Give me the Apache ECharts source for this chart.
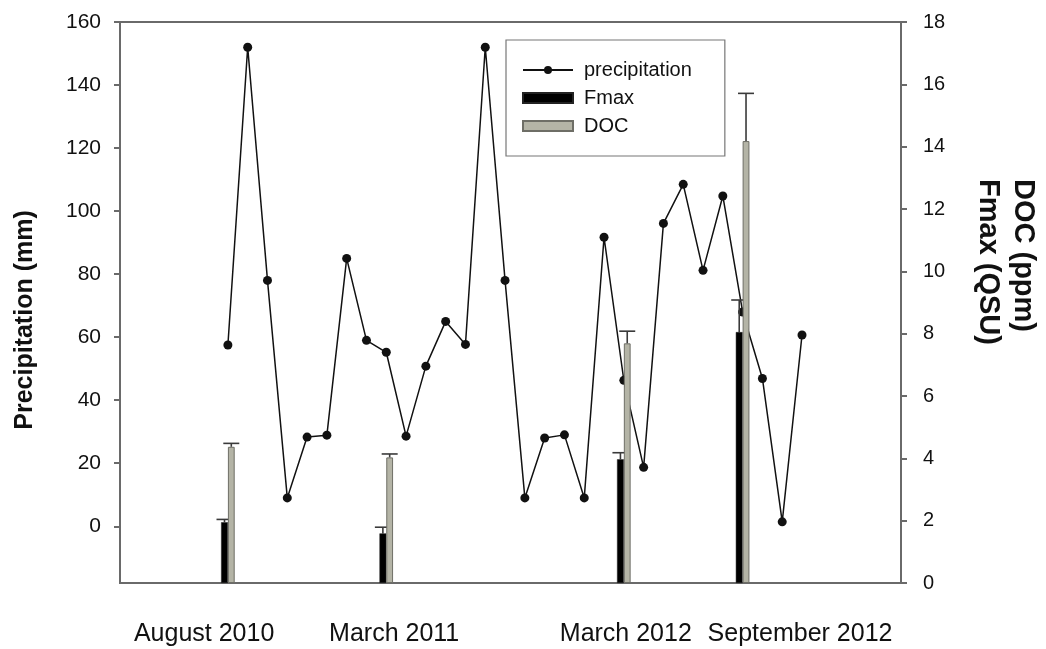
<!DOCTYPE html>
<html>
<head>
<meta charset="utf-8">
<script src="https://cdn.jsdelivr.net/npm/echarts@6/dist/echarts.min.js"></script>
<style>
  html, body { margin: 0; padding: 0; background: #fff; }
  #chart { width: 1046px; height: 649px; }
</style>
</head>
<body>
<div id="chart"></div>
<script>
// Monthly precipitation (mm), month 0 = first sampled month
const precipitation = [57.5, 152, 78, 9, 28.3, 28.9, 85, 59, 55.2, 28.6,
                       50.8, 65, 57.7, 152, 78, 9, 28, 29, 9, 91.7,
                       46.3, 18.7, 96.1, 108.5, 81.2, 104.8, 68, 46.9, 1.4, 60.7];

// Sampling campaigns (month index of each campaign)
const campaignMonth = [0, 8, 20, 26];
const fmax    = [1.95, 1.59, 3.97, 8.05];
const fmaxErr = [0.09, 0.20, 0.21, 1.03];
const doc     = [4.37, 4.03, 7.69, 14.18];
const docErr  = [0.11, 0.11, 0.39, 1.53];

// Period labels along the time axis and where they sit (month index)
const periodLabels  = ['August 2010', 'March 2011', 'March 2012', 'September 2012'];
const periodLabelAt = [-1.2, 8.4, 20.1, 28.9];

// Tick values
const precipTicks = [0, 20, 40, 60, 80, 100, 120, 140, 160];

const FONT = "'Liberation Sans', Arial, sans-serif";
const AXIS_GRAY = '#6a6a6a';
const BAR_W = 6.8;

const chart = echarts.init(document.getElementById('chart'));

function errorBarRenderer(offset) {
  return function (params, api) {
    const x = api.value(0), v = api.value(1), e = api.value(2);
    const p0 = api.coord([x, v]);
    const p1 = api.coord([x, v + e]);
    const cx = p0[0] + offset;
    const style = { stroke: '#3a3a3a', lineWidth: 1.6 };
    return {
      type: 'group',
      children: [
        { type: 'line', shape: { x1: cx, y1: p0[1], x2: cx, y2: p1[1] }, style },
        { type: 'line', shape: { x1: cx - 8, y1: p1[1], x2: cx + 8, y2: p1[1] }, style }
      ]
    };
  };
}

const option = {
  backgroundColor: '#fff',
  animation: false,
  textStyle: { fontFamily: FONT },
  grid: {
    left: 120, right: 145, top: 22, bottom: 66,
    show: true, borderColor: AXIS_GRAY, borderWidth: 2, backgroundColor: 'transparent'
  },
  legend: {
    orient: 'vertical',
    left: 506, top: 40,
    itemWidth: 50, itemHeight: 10, itemGap: 8,
    padding: [20, 33, 20, 16],
    borderColor: '#777', borderWidth: 1.2,
    textStyle: { fontFamily: FONT, fontSize: 20, color: '#111', padding: [0, 0, 0, 6] },
    data: [
      { name: 'precipitation' },
      { name: 'Fmax', icon: 'rect' },
      { name: 'DOC', icon: 'rect' }
    ]
  },
  xAxis: {
    type: 'value',
    min: -5.45, max: 34,
    splitLine: { show: false },
    axisLine: { show: false, onZero: false },
    axisTick: { show: false },
    axisLabel: {
      customValues: periodLabelAt,
      margin: 39,
      fontFamily: FONT, fontSize: 25, color: '#111',
      formatter: function (val) {
        const i = periodLabelAt.findIndex(p => Math.abs(p - val) < 1e-6);
        return i >= 0 ? periodLabels[i] : '';
      }
    }
  },
  yAxis: [
    {
      type: 'value',
      position: 'left',
      min: -18, max: 160,
      splitLine: { show: false },
      axisLine: { show: false, onZero: false },
      axisTick: { show: true, customValues: precipTicks, length: 6, lineStyle: { color: AXIS_GRAY, width: 2 } },
      axisLabel: { customValues: precipTicks, margin: 19, fontFamily: FONT, fontSize: 21, color: '#111' }
    },
    {
      type: 'value',
      position: 'right',
      min: 0, max: 18, interval: 2,
      splitLine: { show: false },
      axisLine: { show: false, onZero: false },
      axisTick: { show: true, length: 6, lineStyle: { color: AXIS_GRAY, width: 2 } },
      axisLabel: { margin: 22, fontFamily: FONT, fontSize: 20, color: '#111' }
    }
  ],
  graphic: [
    {
      type: 'text', x: 25, y: 320, rotation: Math.PI / 2,
      style: { text: 'Precipitation (mm)', font: "bold 25px " + FONT, fill: '#111',
               textAlign: 'center', textVerticalAlign: 'middle' }
    },
    {
      type: 'text', x: 988, y: 179, rotation: -Math.PI / 2,
      style: { text: 'Fmax (QSU)', font: "bold 29px " + FONT, fill: '#111',
               textAlign: 'left', textVerticalAlign: 'middle' }
    },
    {
      type: 'text', x: 1023, y: 179, rotation: -Math.PI / 2,
      style: { text: 'DOC (ppm)', font: "bold 29px " + FONT, fill: '#111',
               textAlign: 'left', textVerticalAlign: 'middle' }
    }
  ],
  series: [
    {
      name: 'precipitation',
      type: 'line',
      yAxisIndex: 0,
      z: 1,
      symbol: 'circle', symbolSize: 9,
      lineStyle: { color: '#111', width: 1.5 },
      itemStyle: { color: '#111' },
      data: precipitation.map((v, i) => [i, v])
    },
    {
      name: 'Fmax-err',
      type: 'custom',
      yAxisIndex: 1,
      z: 2,
      renderItem: errorBarRenderer(-BAR_W / 2),
      encode: { x: 0, y: [1, 2] },
      data: campaignMonth.map((m, i) => [m, fmax[i], fmaxErr[i]])
    },
    {
      name: 'Fmax',
      type: 'bar',
      yAxisIndex: 1,
      z: 3,
      barWidth: BAR_W, barGap: '0%',
      itemStyle: { color: '#000', borderColor: '#222', borderWidth: 0.5 },
      data: campaignMonth.map((m, i) => [m, fmax[i]])
    },
    {
      name: 'DOC',
      type: 'bar',
      yAxisIndex: 1,
      z: 4,
      barWidth: BAR_W, barGap: '0%',
      itemStyle: { color: '#b4b4a6', borderColor: '#6e6e66', borderWidth: 1 },
      data: campaignMonth.map((m, i) => [m, doc[i]])
    },
    {
      name: 'DOC-err',
      type: 'custom',
      yAxisIndex: 1,
      z: 5,
      renderItem: errorBarRenderer(BAR_W / 2),
      encode: { x: 0, y: [1, 2] },
      data: campaignMonth.map((m, i) => [m, doc[i], docErr[i]])
    }
  ]
};

chart.setOption(option);
</script>
</body>
</html>
